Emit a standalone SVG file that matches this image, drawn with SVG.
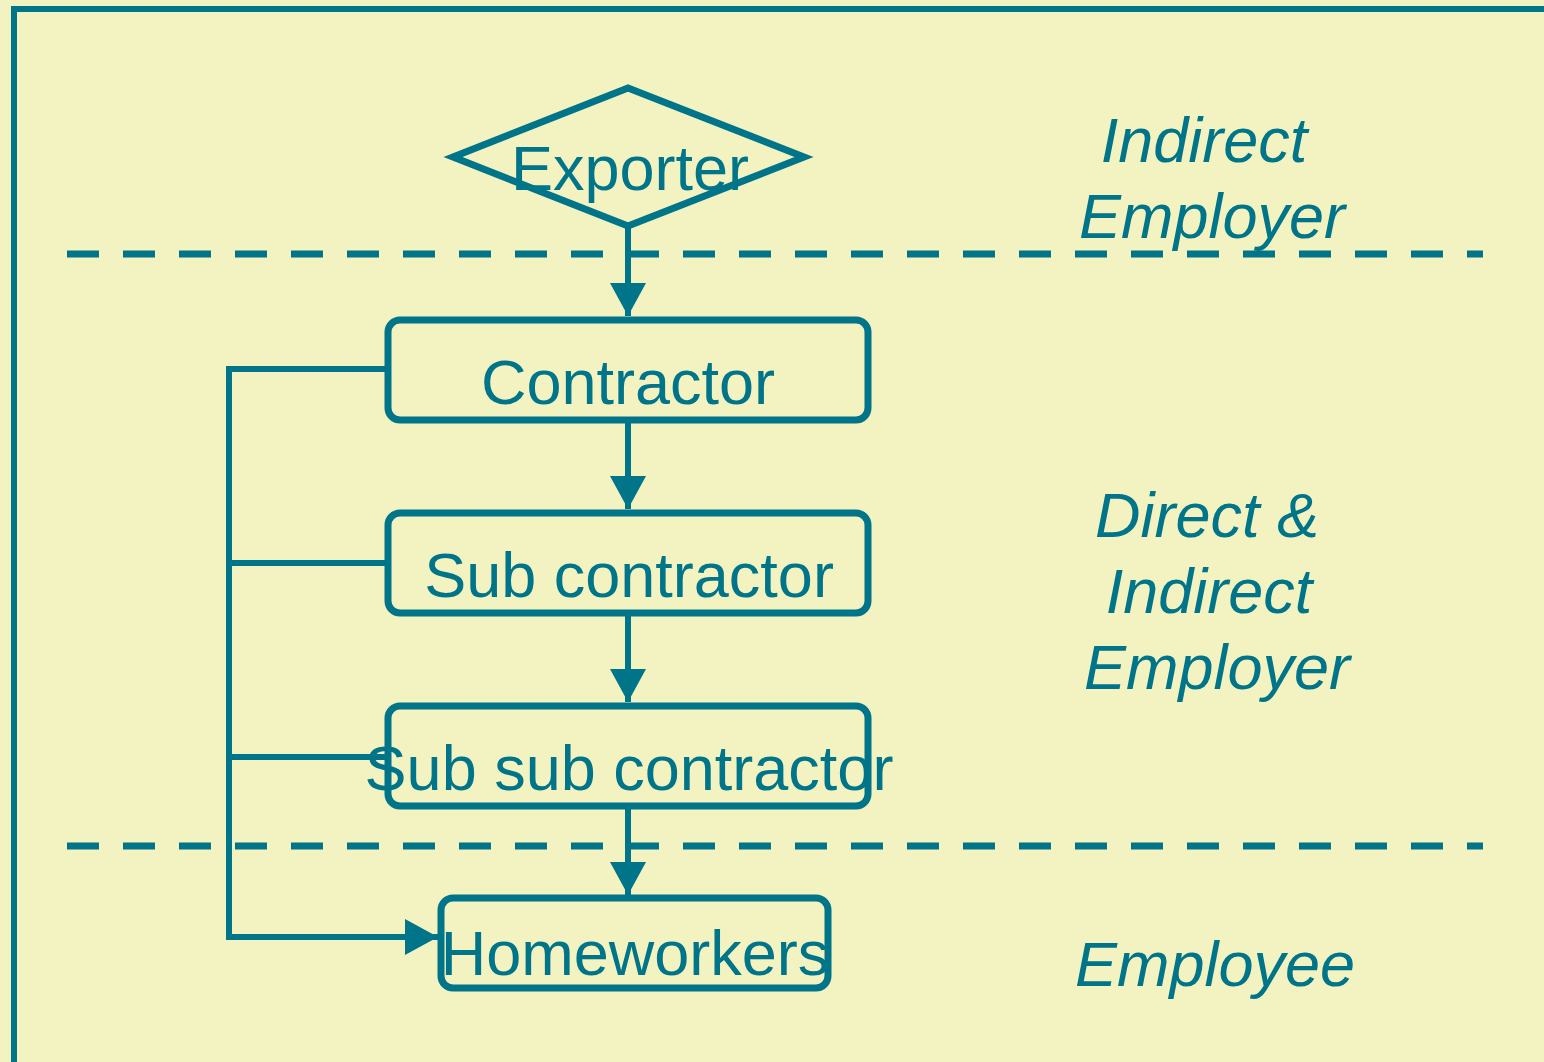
<svg xmlns="http://www.w3.org/2000/svg" width="1544" height="1062" viewBox="0 0 1544 1062">
<defs>
<style>
.bg{fill:#F3F3C1}
.frame{fill:none;stroke:#007489;stroke-width:6}
.box{fill:none;stroke:#007489;stroke-width:7}
.line{fill:none;stroke:#007489;stroke-width:6}
.dash{fill:none;stroke:#007489;stroke-width:7;stroke-dasharray:32 24}
.lbl{font-family:"Liberation Sans",Arial,sans-serif;font-size:63px;fill:#007489;text-anchor:middle}
.side{font-family:"Liberation Sans",Arial,sans-serif;font-size:63px;font-style:italic;fill:#007489;text-anchor:middle}
</style>
<marker id="arr" markerWidth="36" markerHeight="36" refX="33" refY="18" orient="auto" markerUnits="userSpaceOnUse">
<path d="M0,0 L33,18 L0,36 Z" fill="#007489"/>
</marker>
</defs>
<rect class="bg" x="0" y="0" width="1544" height="1062"/>
<rect class="frame" x="14" y="9" width="1545" height="1070"/>
<g id="dividers">
<line class="dash" x1="67" y1="254" x2="1483" y2="254"/>
<line class="dash" x1="67" y1="846" x2="1483" y2="846"/>
</g>
<g id="connectors">
<line class="line" x1="628" y1="228" x2="628" y2="316" marker-end="url(#arr)"/>
<line class="line" x1="628" y1="421" x2="628" y2="509" marker-end="url(#arr)"/>
<line class="line" x1="628" y1="614" x2="628" y2="702" marker-end="url(#arr)"/>
<line class="line" x1="628" y1="807" x2="628" y2="895" marker-end="url(#arr)"/>
<polyline class="line" points="387,369 229,369 229,937 438,937" marker-end="url(#arr)"/>
<line class="line" x1="229" y1="563" x2="387" y2="563"/>
<line class="line" x1="229" y1="757" x2="387" y2="757"/>
</g>
<g id="exporter">
<polygon class="box" points="628,88 453,157 628,226 804,157" stroke-width="6"/>
<text class="lbl" x="630" y="190">Exporter</text>
</g>
<g id="contractor">
<rect class="box" x="388" y="320" width="480" height="100" rx="12"/>
<text class="lbl" x="628" y="404">Contractor</text>
</g>
<g id="subcontractor">
<rect class="box" x="388" y="513" width="480" height="100" rx="12"/>
<text class="lbl" x="629" y="597">Sub contractor</text>
</g>
<g id="subsubcontractor">
<rect class="box" x="388" y="706" width="480" height="100" rx="12"/>
<text class="lbl" x="629" y="790">Sub sub contractor</text>
</g>
<g id="homeworkers">
<rect class="box" x="441" y="898" width="387" height="90" rx="12"/>
<text class="lbl" x="635" y="975">Homeworkers</text>
</g>
<g id="labels">
<text class="side" x="1204" y="162">Indirect</text>
<text class="side" x="1212" y="238">Employer</text>
<text class="side" x="1207" y="537">Direct &amp;</text>
<text class="side" x="1209" y="613">Indirect</text>
<text class="side" x="1217" y="689">Employer</text>
<text class="side" x="1215" y="986">Employee</text>
</g>
</svg>
